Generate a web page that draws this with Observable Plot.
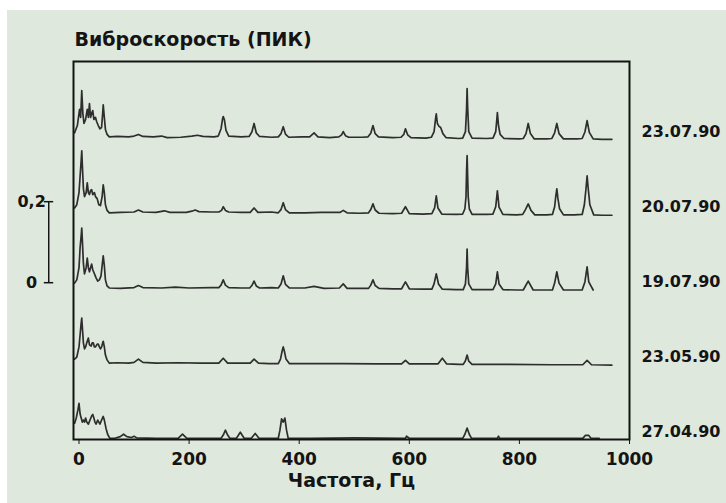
<!DOCTYPE html>
<html>
<head>
<meta charset="utf-8">
<script src="https://cdn.jsdelivr.net/npm/d3@7"></script>
<script src="https://cdn.jsdelivr.net/npm/@observablehq/plot@0.6"></script>
<style>
  html, body { margin: 0; padding: 0; background: #ffffff; }
  #chart { position: absolute; left: 7px; top: 10px; }
</style>
</head>
<body>
<div id="chart"></div>
<script>
// Vibration velocity spectra (peak), amplitude vs frequency [Hz], one trace per survey date.
// Each trace: [frequency, amplitude above its own baseline].

const dates = ["27.04.90", "23.05.90", "19.07.90", "20.07.90", "23.07.90"];

const s270490 = [
  [-8,0.037],[-5,0.05],[-2,0.07],[0,0.086],[2,0.06],[4,0.05],[6,0.04],[8,0.045],[10,0.04],[12,0.05],
  [14,0.04],[17,0.035],[20,0.045],[23,0.055],[25,0.059],[27,0.05],[29,0.04],[31,0.035],[34,0.045],
  [36,0.04],[38,0.035],[41,0.045],[44,0.054],[46,0.045],[49,0.025],[52,0.01],[56,0.0],
  [65,0.0],[75,0.004],[81,0.01],[87,0.004],[95,0.002],[100,0.005],[105,0.001],[140,0.0],[180,0.0],
  [188,0.01],[196,0.0],[240,0.0],[258,0.0],[262,0.008],[266,0.02],[270,0.008],[274,0.0],
  [286,0.0],[293,0.015],[300,0.0],[313,0.0],[320,0.012],[327,0.0],[355,0.0],
  [362,0.0],[365,0.02],[368,0.048],[371,0.04],[374,0.05],[377,0.02],[380,0.0],
  [420,0.0],[500,0.001],[593,0.0],[595,0.005],[600,0.0],[690,0.0],
  [697,0.0],[701,0.01],[705,0.025],[709,0.01],[713,0.0],
  [760,0.0],[762,0.005],[764,0.0],[915,0.0],[920,0.007],[926,0.007],[930,0.0],[945,0.0]
];

const s230590 = [
  [-8,0.01],[-4,0.015],[0,0.04],[2,0.07],[4,0.1],[5,0.111],[6,0.09],[8,0.05],[10,0.035],[12,0.04],
  [14,0.05],[17,0.062],[19,0.045],[22,0.042],[24,0.05],[26,0.05],[28,0.04],[30,0.04],[33,0.047],
  [35,0.047],[37,0.04],[39,0.035],[41,0.04],[43,0.05],[44,0.054],[46,0.04],[48,0.02],[51,0.008],[55,0.0],
  [70,0.001],[90,0.0],[100,0.002],[108,0.01],[116,0.002],[140,0.0],[180,0.001],[220,0.0],
  [254,0.0],[262,0.012],[270,0.0],[290,0.0],[311,0.0],[318,0.01],[326,0.0],[345,-0.001],
  [362,-0.001],[366,0.01],[369,0.03],[371,0.04],[373,0.03],[376,0.01],[382,-0.001],
  [420,-0.001],[480,-0.001],[540,-0.002],[586,-0.002],[593,0.007],[600,-0.002],[640,-0.002],
  [652,-0.002],[660,0.012],[668,-0.002],[690,-0.003],
  [698,-0.003],[702,0.006],[705,0.02],[708,0.005],[714,-0.003],
  [780,-0.003],[860,-0.004],[905,-0.004],[915,-0.004],[923,0.007],[931,-0.004],[968,-0.005]
];

const s190790 = [
  [-8,0.012],[-4,0.02],[0,0.05],[2,0.1],[4,0.13],[5,0.148],[6,0.12],[8,0.06],[10,0.035],[13,0.05],
  [15,0.074],[17,0.05],[19,0.04],[21,0.05],[23,0.059],[25,0.045],[28,0.035],[31,0.025],[34,0.017],
  [37,0.02],[40,0.03],[42,0.055],[44,0.079],[46,0.055],[48,0.02],[51,0.005],[55,0.0],
  [75,-0.001],[100,0.001],[108,0.006],[116,0.001],[150,0.0],[175,0.002],[200,0.0],[240,0.001],
  [254,0.001],[258,0.007],[262,0.02],[266,0.007],[272,0.001],[295,0.0],
  [310,0.0],[314,0.006],[318,0.017],[322,0.005],[328,0.0],[350,0.001],
  [362,0.0],[367,0.01],[371,0.03],[375,0.009],[382,0.0],[410,0.0],[427,0.004],[445,-0.001],
  [473,0.0],[480,0.01],[487,-0.001],[510,-0.001],
  [526,-0.001],[530,0.007],[534,0.02],[538,0.006],[545,-0.001],[570,-0.002],
  [586,-0.002],[593,0.015],[600,-0.002],[625,-0.003],
  [641,-0.003],[645,0.01],[649,0.035],[653,0.01],[660,-0.003],[685,-0.004],
  [698,-0.004],[702,0.01],[704,0.05],[705,0.096],[706,0.05],[708,0.01],[714,-0.004],[740,-0.004],
  [752,-0.004],[757,0.01],[760,0.04],[763,0.01],[770,-0.004],[795,-0.005],
  [807,-0.005],[816,0.017],[825,-0.005],[850,-0.005],
  [860,-0.005],[864,0.012],[868,0.04],[872,0.012],[880,-0.005],[900,-0.005],
  [914,-0.005],[919,0.015],[923,0.052],[926,0.015],[934,-0.005]
];

const s200790 = [
  [-8,0.012],[-4,0.02],[0,0.05],[2,0.09],[4,0.13],[5,0.153],[6,0.12],[8,0.06],[10,0.04],[13,0.05],
  [15,0.074],[17,0.05],[19,0.045],[21,0.055],[23,0.057],[25,0.045],[28,0.05],[30,0.04],[33,0.035],
  [36,0.02],[39,0.018],[42,0.04],[44,0.069],[46,0.05],[48,0.02],[51,0.006],[55,0.0],
  [75,0.001],[100,0.002],[108,0.007],[116,0.002],[140,0.001],[155,0.005],[165,0.001],[195,0.001],
  [205,0.004],[211,0.007],[218,0.003],[240,0.002],
  [254,0.002],[259,0.006],[262,0.015],[266,0.006],[272,0.002],[295,0.001],
  [311,0.001],[318,0.012],[325,0.001],[350,0.002],
  [362,0.0],[367,0.008],[371,0.025],[375,0.008],[382,0.0],[410,0.0],[440,0.001],
  [474,0.001],[480,0.006],[487,0.0],[510,-0.001],
  [526,0.0],[530,0.008],[534,0.022],[538,0.007],[545,-0.001],[570,-0.002],
  [586,-0.001],[593,0.015],[600,-0.002],[625,-0.003],
  [641,-0.002],[646,0.012],[649,0.042],[652,0.012],[659,-0.003],[685,-0.004],
  [697,-0.003],[701,0.01],[703,0.04],[704,0.1],[705,0.141],[706,0.09],[707,0.04],[709,0.01],[714,-0.004],
  [740,-0.004],[752,-0.003],[757,0.015],[760,0.054],[763,0.014],[770,-0.004],[795,-0.005],
  [806,-0.004],[811,0.008],[816,0.022],[821,0.006],[828,-0.005],[850,-0.005],
  [860,-0.004],[864,0.015],[866,0.04],[868,0.059],[870,0.035],[873,0.01],[880,-0.005],[900,-0.005],
  [914,-0.004],[918,0.02],[921,0.06],[923,0.091],[925,0.06],[928,0.02],[935,-0.005],
  [950,-0.006],[968,-0.006]
];

const s230790 = [
  [-8,0.012],[-3,0.03],[1,0.07],[3,0.05],[5,0.116],[7,0.06],[9,0.035],[12,0.045],[15,0.07],[17,0.05],
  [19,0.084],[21,0.05],[23,0.06],[25,0.067],[27,0.045],[30,0.05],[32,0.04],[35,0.03],[38,0.022],
  [41,0.025],[43,0.06],[44,0.081],[46,0.05],[48,0.02],[51,0.008],[55,0.002],
  [70,0.003],[90,0.002],[100,0.004],[108,0.008],[116,0.003],[135,0.002],[150,0.004],[160,0.0],
  [185,0.001],[205,0.004],[215,0.006],[225,0.003],[245,0.002],
  [253,0.004],[258,0.022],[261,0.048],[262,0.052],[264,0.045],[267,0.018],[272,0.004],[295,0.002],
  [309,0.003],[314,0.014],[318,0.035],[322,0.012],[328,0.003],[350,0.001],
  [362,0.002],[367,0.01],[371,0.027],[375,0.009],[381,0.001],[405,0.002],
  [419,0.002],[427,0.012],[434,0.002],[455,0.0],
  [472,0.002],[477,0.007],[480,0.015],[484,0.005],[490,0.001],[515,0.001],
  [525,0.002],[530,0.011],[534,0.03],[538,0.01],[544,0.002],[570,0.0],
  [585,0.001],[590,0.008],[593,0.022],[597,0.007],[603,0.0],[630,-0.001],
  [640,0.001],[645,0.015],[648,0.05],[649,0.059],[651,0.035],[654,0.028],[657,0.025],[661,0.01],[667,0.0],
  [690,-0.002],[697,-0.001],[702,0.015],[704,0.07],[705,0.121],[706,0.075],[708,0.015],[714,-0.001],
  [740,-0.002],[752,-0.001],[757,0.015],[759,0.045],[760,0.062],[762,0.03],[765,0.008],[772,-0.002],
  [800,-0.003],[807,-0.002],[812,0.01],[816,0.035],[820,0.01],[827,-0.003],[850,-0.003],
  [859,-0.002],[864,0.012],[868,0.035],[872,0.01],[880,-0.003],[905,-0.003],
  [914,-0.002],[919,0.014],[923,0.042],[927,0.013],[934,-0.003],[950,-0.004],[968,-0.004]
];

const spectra = [s270490, s230590, s190790, s200790, s230790];

// Scale bar: 0 … 0,2 amplitude units
const scaleTicks = [0, 0.2];
const scaleLabels = ["0", "0,2"];

// Vertical stacking of traces (amplitude units)
const firstBase = 0.003;
const stackStep = 0.1855;
const scaleBase = 0.387;

const rows = spectra.flatMap((s, i) =>
  s.map(([f, a]) => ({date: dates[i], f, y: firstBase + i * stackStep + a}))
);
const dateRows = dates.map((d, i) => ({date: d, y: firstBase + i * stackStep}));

const ink = "#141414";

const chart = Plot.plot({
  width: 719,
  height: 493,
  marginLeft: 66,
  marginRight: 97,
  marginTop: 51,
  marginBottom: 64,
  style: "background:#dfe8dc; font-family:'DejaVu Sans', sans-serif; font-weight:bold; color:#141414;",
  x: {domain: [-10, 1000]},
  y: {domain: [0, 0.933], axis: null},
  marks: [
    Plot.line(rows, {x: "f", y: "y", z: "date", stroke: "#2e2e2e", strokeWidth: 1.7, strokeLinejoin: "round"}),
    Plot.frame({stroke: ink, strokeWidth: 2}),
    Plot.axisX({
      ticks: [0, 200, 400, 600, 800, 1000],
      tickFormat: d => String(d),
      tickSize: 5,
      tickPadding: 8,
      fontSize: 17,
      label: null
    }),
    Plot.text(["Частота, Гц"], {text: d => d, frameAnchor: "bottom", dy: 47, fontSize: 19, fill: ink}),
    Plot.text(["Виброскорость (ПИК)"], {text: d => d, frameAnchor: "top-left", textAnchor: "start", dx: 1, dy: -29, fontSize: 19, fill: ink}),
    Plot.text(dateRows, {x: 1000, y: "y", text: "date", textAnchor: "start", dx: 12, dy: -6, fontSize: 16, fill: ink}),
    Plot.ruleX([-55], {y1: scaleBase, y2: scaleBase + 0.2, stroke: ink, strokeWidth: 1.5}),
    Plot.ruleY(scaleTicks, {y: d => scaleBase + d, x1: -63, x2: -46, stroke: ink, strokeWidth: 1.5}),
    Plot.text(scaleTicks, {x: -86, y: d => scaleBase + d, text: (d, i) => scaleLabels[i], textAnchor: "middle", fontSize: 16, fill: ink})
  ]
});

document.getElementById("chart").append(chart);
</script>
</body>
</html>
